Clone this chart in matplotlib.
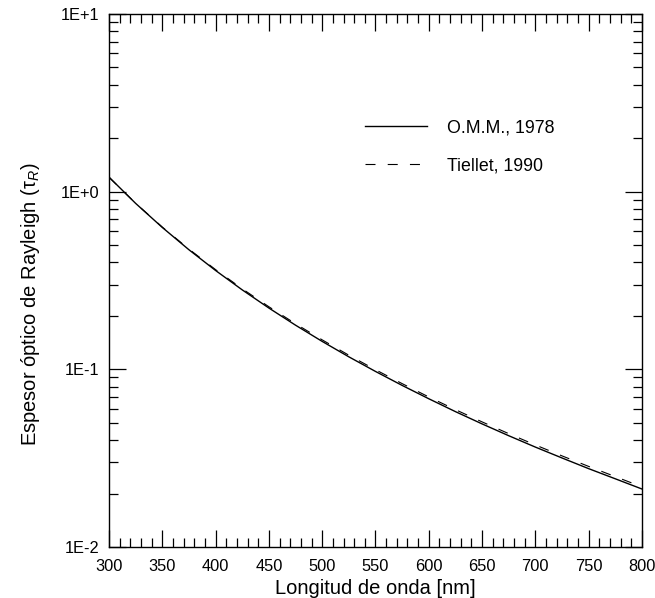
import numpy as np
import matplotlib
matplotlib.use("Agg")
import matplotlib.pyplot as plt
from matplotlib.ticker import MultipleLocator, LogLocator, FixedLocator, FuncFormatter

plt.rcParams["font.family"] = ["Liberation Sans", "DejaVu Sans"]
plt.rcParams["mathtext.fontset"] = "custom"
plt.rcParams["mathtext.rm"] = "Liberation Sans"
plt.rcParams["mathtext.it"] = "Liberation Sans:italic"

# -------- datos ------------------------------------------------------------
longitud_onda = [300, 325, 350, 375, 400, 425, 450, 475, 500, 525, 550,
                 575, 600, 625, 650, 675, 700, 725, 750, 775, 800]

tau_omm_1978 = [1.208, 0.859, 0.629, 0.471, 0.360, 0.280, 0.2213, 0.1772,
                0.1436, 0.1176, 0.0973, 0.0812, 0.0683, 0.0578, 0.0493,
                0.0423, 0.0365, 0.0317, 0.0276, 0.0242, 0.0212]

tau_tiellet_1990 = [1.205, 0.860, 0.632, 0.475, 0.364, 0.284, 0.2250, 0.1805,
                    0.1465, 0.1201, 0.0995, 0.0831, 0.0699, 0.0593, 0.0506,
                    0.04345, 0.03752, 0.03257, 0.02841, 0.02489, 0.0218]

etiquetas = ["O.M.M., 1978", "Tiellet, 1990"]

# -------- figura ------------------------------------------------------------
fig = plt.figure(figsize=(6.55, 5.98), dpi=100)
ax = fig.add_axes([0.1664, 0.0853, 0.8137, 0.8913])

ax.plot(longitud_onda, tau_omm_1978, color="black", lw=1.0, label=etiquetas[0])
ax.plot(longitud_onda, tau_tiellet_1990, color="black", lw=0.8,
        dashes=(9, 11), label=etiquetas[1])

ax.set_yscale("log")
ax.set_xlim(300, 800)
ax.set_ylim(1e-2, 1e1)

ax.xaxis.set_major_locator(MultipleLocator(50))
ax.xaxis.set_minor_locator(MultipleLocator(10))
ax.yaxis.set_major_locator(FixedLocator([1e-2, 1e-1, 1e0, 1e1]))
ax.yaxis.set_minor_locator(LogLocator(base=10, subs=np.arange(2, 10)))
ax.yaxis.set_major_formatter(
    FuncFormatter(lambda v, _p: "1E%+d" % int(round(np.log10(v)))))

ax.tick_params(which="both", direction="in", top=True, right=True,
               labelsize=11.8, width=0.9, colors="black")
ax.tick_params(which="major", length=12.5)
ax.tick_params(which="minor", length=6.5)
ax.tick_params(axis="y", which="major", pad=7)
ax.tick_params(axis="x", which="major", pad=9)

for s in ax.spines.values():
    s.set_linewidth(1.0)

ax.set_xlabel("Longitud de onda [nm]", fontsize=14.5, labelpad=3)
ax.set_ylabel("Espesor óptico de Rayleigh (τ$_R$)", fontsize=14.5)
ax.yaxis.set_label_coords(-0.126, 0.456)

ax.legend(loc="upper left", bbox_to_anchor=(0.451, 0.833), frameon=False,
          fontsize=12.8, handlelength=3.45, handletextpad=1.15,
          labelspacing=1.2)

fig.savefig("out.png", dpi=100)
